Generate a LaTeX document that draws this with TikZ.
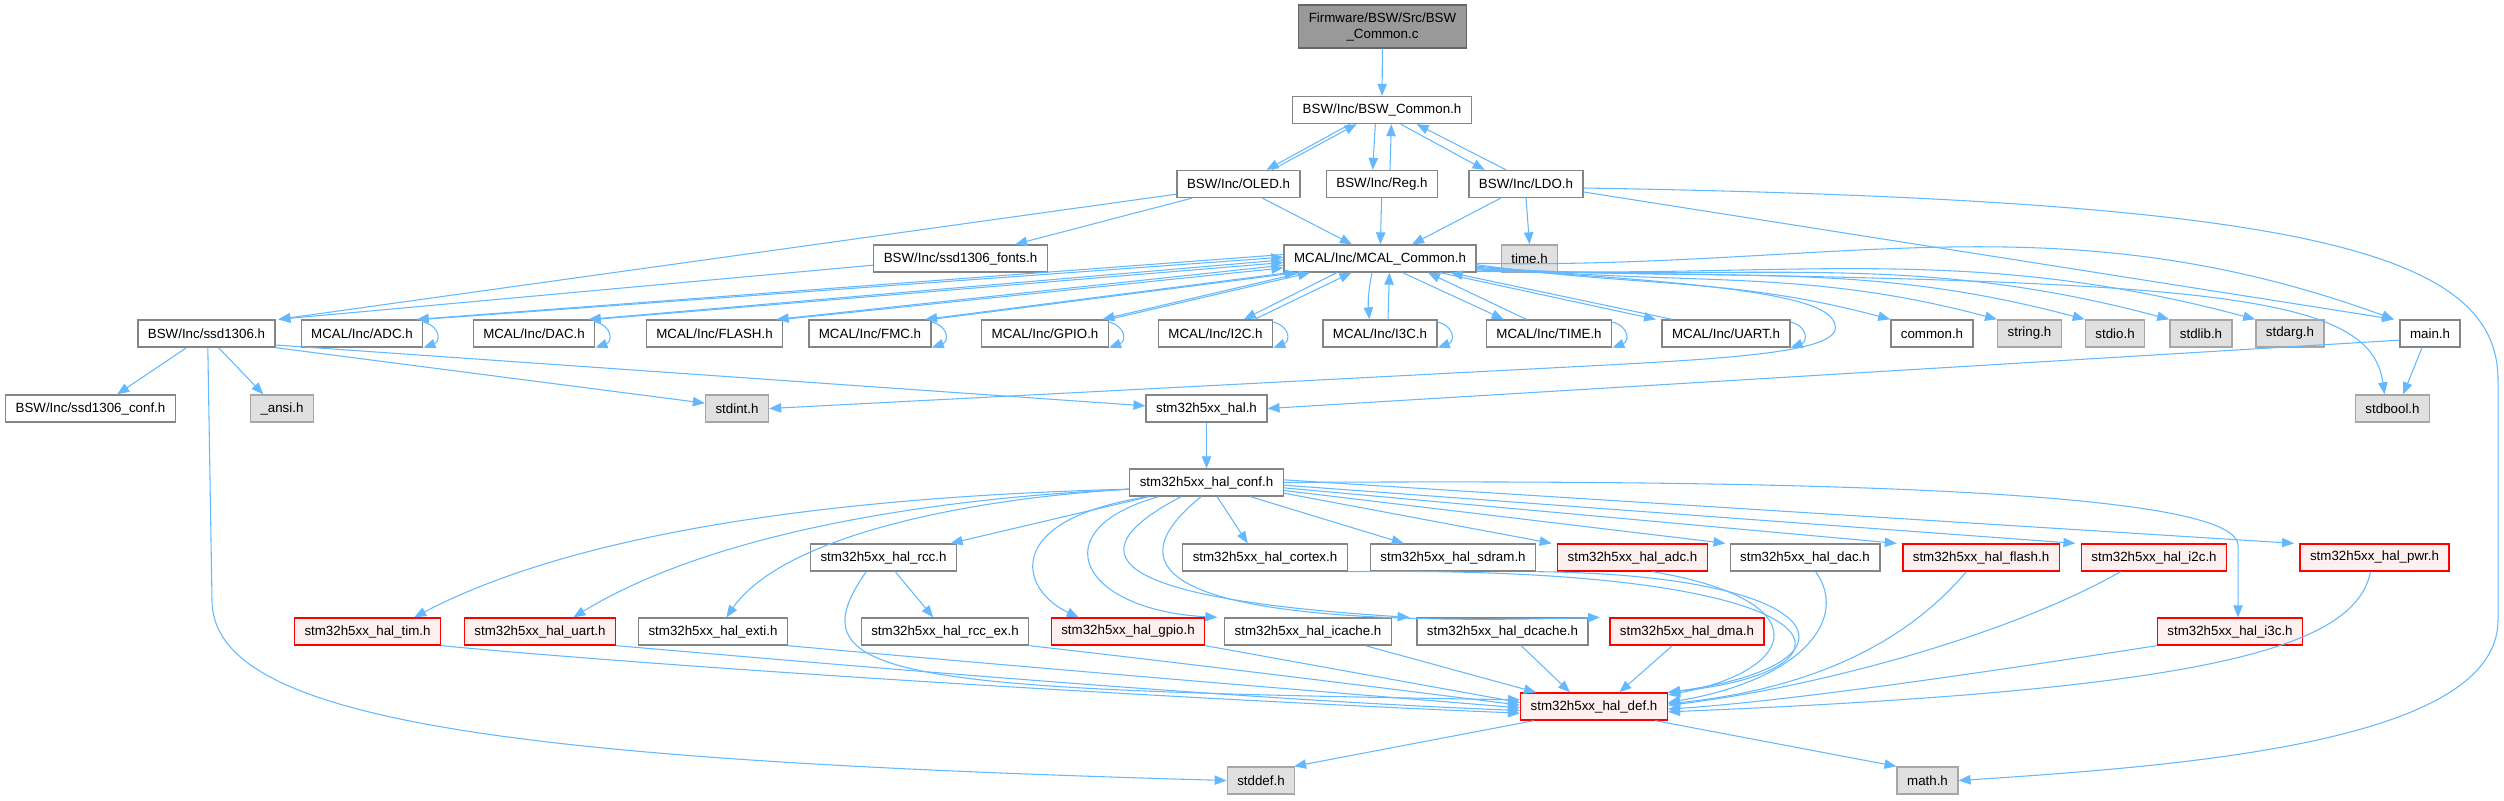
\documentclass[tikz,border=0pt]{standalone}
\usepackage{fontspec}
\setmainfont{Liberation Sans}
\usetikzlibrary{arrows.meta}
\definecolor{incblue}{HTML}{63B8FF}
\definecolor{hdrline}{HTML}{858585}
\definecolor{sysline}{HTML}{A6A6A6}
\definecolor{sysfill}{HTML}{E0E0E0}
\definecolor{redfill}{HTML}{FFF0F0}
\definecolor{srcfill}{HTML}{999999}
\definecolor{srcline}{HTML}{666666}

\begin{document}
\begin{tikzpicture}[x=0.75pt,y=-0.75pt,
  hdr/.style={draw=hdrline,fill=white,line width=1pt,minimum height=20.25pt,
    inner xsep=7.5pt,inner ysep=0pt,font=\fontsize{10pt}{12pt}\selectfont},
  syshdr/.style={hdr,draw=sysline,fill=sysfill},
  redhdr/.style={hdr,draw=red,fill=redfill},
  srcfile/.style={hdr,draw=srcline,fill=srcfill,minimum height=32.25pt,align=center},
  incl/.style={draw=incblue,line width=0.8pt,-{Triangle[length=9pt,width=7pt]}},
  selfinc/.style={incl,out=-15,in=20,looseness=1.8}]
 \useasboundingbox (0,0) rectangle (2504,800);

 % BSW layer
 \node[srcfile] (root) at (1382.5,26.5) {Firmware/BSW/Src/BSW\\\_Common.c};
 \node[hdr] (bswcommon) at (1382,110) {BSW/Inc/BSW\_Common.h};
 \node[hdr] (oled) at (1238.5,184) {BSW/Inc/OLED.h};
 \node[hdr] (reg) at (1382,184) {BSW/Inc/Reg.h};
 \node[hdr] (ldo) at (1526,184) {BSW/Inc/LDO.h};
 \node[hdr] (fonts) at (960.5,258.5) {BSW/Inc/ssd1306\_fonts.h};
 \node[hdr] (mcal) at (1380,258.5) {MCAL/Inc/MCAL\_Common.h};
 \node[syshdr] (time) at (1529.5,258.5) {time.h};

 % MCAL row
 \node[hdr] (ssd) at (206.5,333.5) {BSW/Inc/ssd1306.h};
 \node[hdr] (adc) at (362,333.5) {MCAL/Inc/ADC.h};
 \node[hdr] (dac) at (534,333.5) {MCAL/Inc/DAC.h};
 \node[hdr] (flash) at (714.5,333.5) {MCAL/Inc/FLASH.h};
 \node[hdr] (fmc) at (870,333.5) {MCAL/Inc/FMC.h};
 \node[hdr] (gpio) at (1045,333.5) {MCAL/Inc/GPIO.h};
 \node[hdr] (i2c) at (1215.5,333.5) {MCAL/Inc/I2C.h};
 \node[hdr] (i3c) at (1380,333.5) {MCAL/Inc/I3C.h};
 \node[hdr] (timeh) at (1549,333.5) {MCAL/Inc/TIME.h};
 \node[hdr] (uart) at (1726,333.5) {MCAL/Inc/UART.h};
 \node[hdr] (common) at (1932,333.5) {common.h};
 \node[syshdr] (string) at (2029.5,333.5) {string.h};
 \node[syshdr] (stdio) at (2115,333.5) {stdio.h};
 \node[syshdr] (stdlib) at (2201,333.5) {stdlib.h};
 \node[syshdr] (stdarg) at (2290,333.5) {stdarg.h};
 \node[hdr] (main) at (2430,333.5) {main.h};

 \node[hdr] (conf) at (90.5,408.5) {BSW/Inc/ssd1306\_conf.h};
 \node[syshdr] (ansi) at (282,408.5) {\_ansi.h};
 \node[syshdr] (stdint) at (737,408.5) {stdint.h};
 \node[hdr] (hal) at (1206.5,408.5) {stm32h5xx\_hal.h};
 \node[syshdr] (stdbool) at (2392.5,408.5) {stdbool.h};

 % HAL
 \node[hdr] (halconf) at (1206.5,482.5) {stm32h5xx\_hal\_conf.h};
 \node[hdr] (rcc) at (883.5,557.5) {stm32h5xx\_hal\_rcc.h};
 \node[hdr] (cortex) at (1265,557.5) {stm32h5xx\_hal\_cortex.h};
 \node[hdr] (sdram) at (1453,557.5) {stm32h5xx\_hal\_sdram.h};
 \node[redhdr] (adcd) at (1632.5,557.5) {stm32h5xx\_hal\_adc.h};
 \node[hdr] (dacd) at (1805,557.5) {stm32h5xx\_hal\_dac.h};
 \node[redhdr] (flashd) at (1981,557.5) {stm32h5xx\_hal\_flash.h};
 \node[redhdr] (i2cd) at (2154,557.5) {stm32h5xx\_hal\_i2c.h};
 \node[redhdr] (pwr) at (2374.5,557.5) {stm32h5xx\_hal\_pwr.h};
 \node[redhdr] (tim) at (367.5,631.5) {stm32h5xx\_hal\_tim.h};
 \node[redhdr] (uartd) at (540,631.5) {stm32h5xx\_hal\_uart.h};
 \node[hdr] (exti) at (713,631.5) {stm32h5xx\_hal\_exti.h};
 \node[hdr] (rccex) at (945,631.5) {stm32h5xx\_hal\_rcc\_ex.h};
 \node[redhdr] (gpiod) at (1128,631.5) {stm32h5xx\_hal\_gpio.h};
 \node[hdr] (icache) at (1308,631.5) {stm32h5xx\_hal\_icache.h};
 \node[hdr] (dcache) at (1502.5,631.5) {stm32h5xx\_hal\_dcache.h};
 \node[redhdr] (dma) at (1687,631.5) {stm32h5xx\_hal\_dma.h};
 \node[redhdr] (i3cd) at (2230,631.5) {stm32h5xx\_hal\_i3c.h};
 \node[redhdr] (def) at (1594,706.5) {stm32h5xx\_hal\_def.h};
 \node[syshdr] (stddef) at (1261,780.5) {stddef.h};
 \node[syshdr] (math) at (1927.5,780.5) {math.h};

 % top of the graph
 \draw[incl] (root) -- (bswcommon);
 \draw[incl] ([xshift=-24pt]bswcommon.south) -- ([xshift=21pt]oled.north);
 \draw[incl] ([xshift=25pt]oled.north) -- ([xshift=-19pt]bswcommon.south);
 \draw[incl] ([xshift=-5pt]bswcommon.south) -- ([xshift=-7pt]reg.north);
 \draw[incl] ([xshift=6pt]reg.north) -- ([xshift=7pt]bswcommon.south);
 \draw[incl] ([xshift=14pt]bswcommon.south) -- ([xshift=-31pt]ldo.north);
 \draw[incl] ([xshift=-15pt]ldo.north) -- ([xshift=26pt]bswcommon.south);

 \draw[incl] ([yshift=3pt]oled.south west) -- ([xshift=2pt]ssd.north east);
 \draw[incl] ([xshift=-35pt]oled.south) -- ([xshift=41pt]fonts.north);
 \draw[incl] ([xshift=18pt]oled.south) -- ([xshift=-21pt]mcal.north);
 \draw[incl] (reg) -- (mcal);
 \draw[incl] ([xshift=-19pt]ldo.south) -- ([xshift=24pt]mcal.north);
 \draw[incl] (ldo.south) -- (time.north);
 \draw[incl] ([yshift=-6pt]ldo.east) -- ([xshift=-4pt]main.north west);
 \draw[incl] ([yshift=-3pt]ldo.east) .. controls (2300,200) and (2498,250) .. (2498,380)
   -- (2498,620) .. controls (2498,740) and (2200,765) .. (math.east);
 \draw[incl] ([yshift=-5pt]fonts.west) -- ([xshift=2pt]ssd.north east);

 % MCAL_Common and its modules
 \draw[incl] ([yshift=3pt]mcal.west) -- ([xshift=-5pt]adc.north east);
 \draw[incl] (adc.north east) -- ([yshift=1pt]mcal.west);
 \draw[incl] ([yshift=-1pt]mcal.west) -- ([xshift=-5pt]dac.north east);
 \draw[incl] (dac.north east) -- ([yshift=-3pt]mcal.west);
 \draw[incl] ([yshift=-5pt]mcal.west) -- ([xshift=-5pt]flash.north east);
 \draw[incl] (flash.north east) -- ([yshift=-7pt]mcal.west);
 \draw[incl] ([xshift=4pt]mcal.south west) -- ([xshift=-5pt]fmc.north east);
 \draw[incl] (fmc.north east) -- ([xshift=10pt]mcal.south west);
 \draw[incl] ([xshift=14pt]mcal.south west) -- ([xshift=-5pt]gpio.north east);
 \draw[incl] (gpio.north east) -- ([xshift=20pt]mcal.south west);
 \draw[incl] ([xshift=40pt]mcal.south west) -- ([xshift=-22pt]i2c.north east);
 \draw[incl] ([xshift=-14pt]i2c.north east) -- ([xshift=51pt]mcal.south west);
 \draw[incl] ([xshift=-6pt]mcal.south) to[bend right=8] ([xshift=-8pt]i3c.north);
 \draw[incl] ([xshift=6pt]i3c.north) -- ([xshift=7pt]mcal.south);
 \draw[incl] ([xshift=17pt]mcal.south) -- ([xshift=-34pt]timeh.north);
 \draw[incl] ([xshift=-17pt]timeh.north) -- ([xshift=36pt]mcal.south);
 \draw[incl] ([xshift=45pt]mcal.south) -- ([xshift=-4pt]uart.north west);
 \draw[incl] ([xshift=8pt]uart.north west) -- ([xshift=53pt]mcal.south);
 \foreach \n in {adc,dac,fmc,gpio,i2c,i3c,timeh,uart}
   \draw[selfinc] ([yshift=-2pt]\n.north east) to (\n.south east);

 \draw[incl] ([yshift=6pt]mcal.south east) to[out=-8,in=165] (common.north west);
 \draw[incl] ([yshift=5pt]mcal.south east) to[out=-6,in=165] (string.north west);
 \draw[incl] ([yshift=4pt]mcal.south east) to[out=-4,in=165] (stdio.north west);
 \draw[incl] ([yshift=3pt]mcal.south east) to[out=-3,in=165] (stdlib.north west);
 \draw[incl] ([yshift=2pt]mcal.south east) to[out=-2,in=165] (stdarg.north west);
 \draw[incl] ([yshift=7pt]mcal.south east) to[out=-1,in=160] ([xshift=-4pt]main.north west);
 \draw[incl] ([yshift=1pt]mcal.south east) .. controls (2200,280) and (2370,290)
   .. ([xshift=-6pt]stdbool.north);
 \draw[incl] ([yshift=3pt]mcal.south east) .. controls (1760,285) and (1840,300) .. (1835,330)
   .. controls (1828,355) and (1700,360) .. (1550,368) -- (stdint.east);
 \draw[incl] ([yshift=-5pt]main.west) -- (hal.east);
 \draw[incl] ([xshift=-6pt]main.south) -- ([xshift=8pt]stdbool.north);

 % ssd1306
 \draw[incl] ([xshift=-15pt]ssd.south) -- ([xshift=20pt]conf.north);
 \draw[incl] ([xshift=9pt]ssd.south) -- ([xshift=-14pt]ansi.north);
 \draw[incl] ([xshift=1pt]ssd.south) -- (212,600) .. controls (212,720) and (500,760) .. (stddef.west);
 \draw[incl] (ssd.south east) -- ([yshift=4pt]stdint.west);
 \draw[incl] ([yshift=2pt]ssd.south east) -- ([yshift=2pt]hal.west);

 % HAL layer
 \draw[incl] (hal) -- (halconf);
 \draw[incl] ([yshift=-5pt]halconf.west) .. controls (900,495) and (600,520) .. ([xshift=35pt]tim.north);
 \draw[incl] ([yshift=-5pt]halconf.west) .. controls (900,500) and (700,540) .. ([xshift=25pt]uartd.north);
 \draw[incl] ([yshift=-5pt]halconf.west) .. controls (950,500) and (780,540) .. ([xshift=10pt]exti.north);
 \draw[incl] ([xshift=15pt]halconf.south west) -- ([xshift=-5pt]rcc.north east);
 \draw[incl] ([xshift=14pt]halconf.south west) .. controls (1000,520) and (1020,590) .. ([xshift=-37pt]gpiod.north);
 \draw[incl] ([xshift=22pt]halconf.south west) .. controls (1040,530) and (1080,610) .. ([xshift=-5pt]icache.north west);
 \draw[incl] ([xshift=39pt]halconf.south west) .. controls (1060,560) and (1130,600) .. ([xshift=-5pt]dcache.north west);
 \draw[incl] ([xshift=54pt]halconf.south west) .. controls (1110,570) and (1160,630) .. ([xshift=-7pt]dma.north west);
 \draw[incl] ([xshift=8pt]halconf.south) -- ([xshift=-13pt]cortex.north);
 \draw[incl] ([xshift=33pt]halconf.south) -- ([xshift=-37pt]sdram.north);
 \draw[incl] ([yshift=-8pt]halconf.east) -- ([xshift=-4pt]adcd.north west);
 \draw[incl] ([yshift=-6pt]halconf.east) -- ([xshift=-3pt]dacd.north west);
 \draw[incl] ([yshift=-4pt]halconf.east) -- ([xshift=-4pt]flashd.north west);
 \draw[incl] ([yshift=-2pt]halconf.east) -- ([xshift=-4pt]i2cd.north west);
 \draw[incl] ([yshift=2pt]halconf.east) -- ([xshift=-4pt]pwr.north west);
 \draw[incl] (halconf.east) .. controls (1950,478) and (2236,500) .. (2238,545) -- ([xshift=6pt]i3cd.north);

 % into stm32h5xx_hal_def.h
 \draw[incl] (tim.south east) .. controls (700,670) and (1200,700) .. ([yshift=-5pt]def.west);
 \draw[incl] (uartd.south east) .. controls (900,670) and (1250,700) .. ([yshift=-3pt]def.west);
 \draw[incl] (exti.south east) .. controls (1000,665) and (1300,690) .. ([yshift=-1pt]def.west);
 \draw[incl] ([xshift=-13pt]rcc.south) .. controls (790,680) and (900,690) .. ([yshift=5pt]def.west);
 \draw[incl] (rcc) -- (rccex);
 \draw[incl] (rccex.south east) .. controls (1200,665) and (1400,690) .. ([yshift=1pt]def.west);
 \draw[incl] (gpiod.south east) -- ([yshift=3pt]def.west);
 \draw[incl] ([xshift=-20pt]icache.south east) -- ([xshift=12pt]def.north west);
 \draw[incl] ([xshift=14pt]dcache.south) -- ([xshift=-18pt]def.north);
 \draw[incl] ([xshift=-11pt]dma.south) -- ([xshift=19pt]def.north);
 \draw[incl] (cortex.south east) .. controls (1850,565) and (1880,670) .. (def.north east);
 \draw[incl] (sdram.south east) .. controls (1840,575) and (1870,665) .. (def.north east);
 \draw[incl] ([xshift=15pt]adcd.south) .. controls (1820,600) and (1800,670) .. ([yshift=-2pt]def.north east);
 \draw[incl] ([xshift=8pt]dacd.south) .. controls (1850,620) and (1800,680) .. ([yshift=3pt]def.east);
 \draw[incl] ([xshift=-11pt]flashd.south) .. controls (1900,650) and (1800,690) .. ([yshift=2pt]def.east);
 \draw[incl] ([xshift=-25pt]i2cd.south) .. controls (2000,640) and (1800,690) .. ([yshift=1pt]def.east);
 \draw[incl] (i3cd.south west) .. controls (2000,670) and (1800,700) .. ([yshift=-2pt]def.east);
 \draw[incl] ([xshift=-3pt]pwr.south) .. controls (2355,650) and (2200,690) .. ([yshift=-4pt]def.east);
 \draw[incl] ([xshift=-45pt]def.south) -- ([xshift=-1pt]stddef.north east);
 \draw[incl] ([xshift=46pt]def.south) -- (math.north west);
\end{tikzpicture}
\end{document}
